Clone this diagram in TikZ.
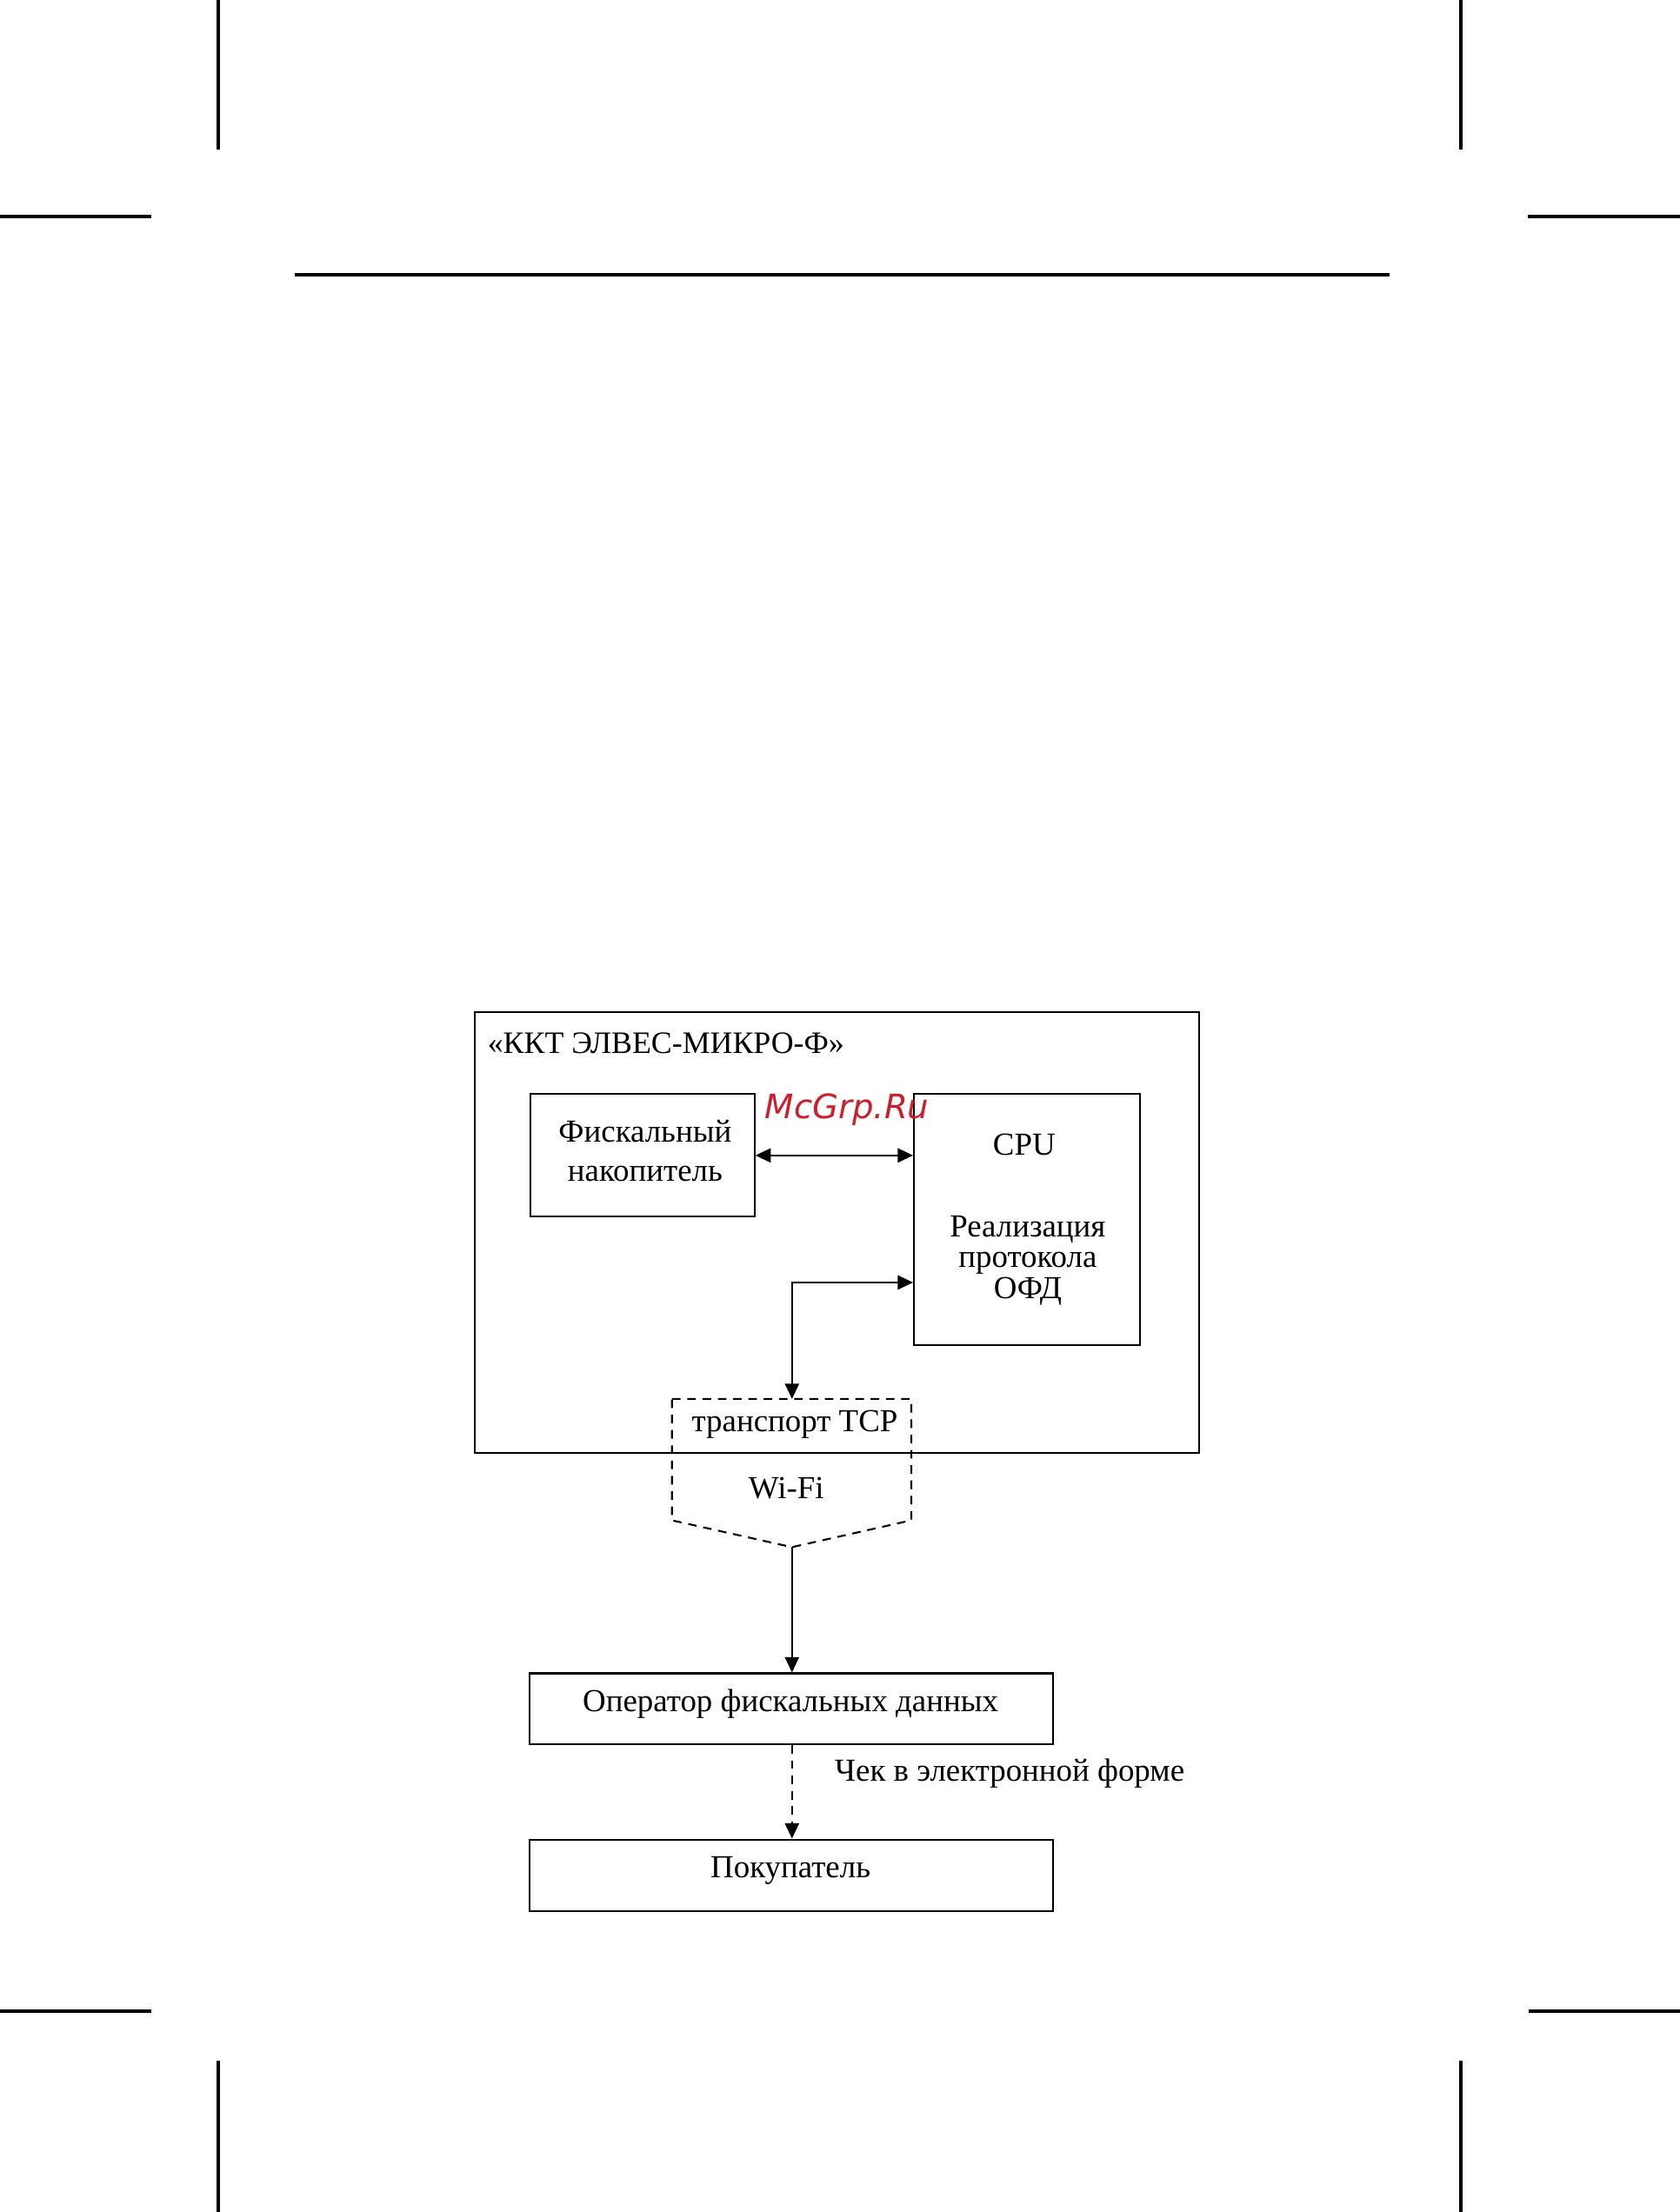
\documentclass[tikz,border=0pt]{standalone}
\usepackage{fontspec}
\setmainfont{Liberation Serif}
\newfontfamily\wmfont{DejaVu Sans}
\usetikzlibrary{arrows.meta,positioning}
\definecolor{wmred}{RGB}{205,30,45}

\begin{document}
\begin{tikzpicture}[x=0.16235mm,y=-0.16235mm,
    box/.style={draw,line width=0.6pt,inner sep=0pt,align=center,
      font=\fontsize{10.5}{13}\selectfont},
    lbl/.style={inner sep=0pt,align=center,font=\fontsize{10.5}{12.6}\selectfont},
    arr/.style={line width=0.6pt,-{Triangle[length=5pt,width=4.6pt]}},
    darr/.style={line width=0.6pt,{Triangle[length=5pt,width=4.6pt]}-{Triangle[length=5pt,width=4.6pt]}},
    dsh/.style={line width=0.6pt,dash pattern=on 2.8pt off 2.2pt},
    cropline/.style={line width=1.1pt}]
  \useasboundingbox (0,0) rectangle (1190,1567);

  % crop marks and header rule
  \draw[cropline] (154.5,0) -- (154.5,106);
  \draw[cropline] (1035,0) -- (1035,106);
  \draw[cropline] (0,153.5) -- (107,153.5);
  \draw[cropline] (1082,153.5) -- (1190,153.5);
  \draw[cropline] (0,1424.7) -- (107,1424.7);
  \draw[cropline] (1083,1424.7) -- (1190,1424.7);
  \draw[cropline] (154.5,1460) -- (154.5,1567);
  \draw[cropline] (1035,1460) -- (1035,1567);
  \draw[line width=1pt] (209,194.7) -- (984,194.7);

  % ККТ
  \node[box,minimum width=8.33cm,minimum height=5.065cm] (kkt) at (593,873) {};
  \node[lbl,anchor=west,font=\fontsize{10.2}{12}\selectfont] (kktname) at (345,739) {«ККТ ЭЛВЕС-МИКРО-Ф»};
  \node[box,minimum width=2.58cm,minimum height=1.41cm] (fn) at (455,818.5) {};
  \node[lbl,font=\fontsize{10.5}{12.8}\selectfont] (fntext) at (457,815) {Фискальный\\накопитель};
  \node[box,minimum width=2.60cm,minimum height=2.89cm] (cpu) at (727.5,864) {};
  \node[lbl] (cputext) at (725.5,811) {CPU};
  \node[lbl,font=\fontsize{10.5}{10}\selectfont] (ofdproto) at (728,893) {Реализация\\протокола\\ОФД};
  \draw[darr] (fn.east) -- (cpu.west |- fn.east);

  % транспорт
  \coordinate (tcptop) at (561,991);
  \coordinate (tcpturn) at (561,908.5);
  \coordinate (tcpbot) at (561,1096);
  \draw[dsh] (476,991) -- (645.5,991) -- (645.5,1077) -- (tcpbot) -- (476,1077) -- cycle;
  \node[lbl] (tcp) at (563,1009) {транспорт TCP};
  \node[lbl] (wifi) at (557,1054) {Wi-Fi};
  \draw[darr] (tcptop) |- (cpu.west |- tcpturn);

  % ОФД и покупатель
  \node[box,minimum width=6.02cm,minimum height=0.815cm] (ofd) at (560.5,1210.5) {};
  \node[lbl] (ofdtext) at (560,1207) {Оператор фискальных данных};
  \node[box,minimum width=6.02cm,minimum height=0.825cm] (buyer) at (560.5,1328.5) {};
  \node[lbl] (buyertext) at (560,1325) {Покупатель};
  \draw[arr] (tcpbot) -- (ofd.north -| tcpbot);
  \draw[arr,dsh] (ofd.south -| tcpbot) -- (buyer.north -| tcpbot);
  \node[lbl,anchor=west] (check) at (591,1256.5) {Чек в электронной форме};

  \node[inner sep=0pt,text=wmred,font=\wmfont\itshape\fontsize{11}{13}\selectfont] (wm) at (600,786) {McGrp.Ru};
\end{tikzpicture}
\end{document}
